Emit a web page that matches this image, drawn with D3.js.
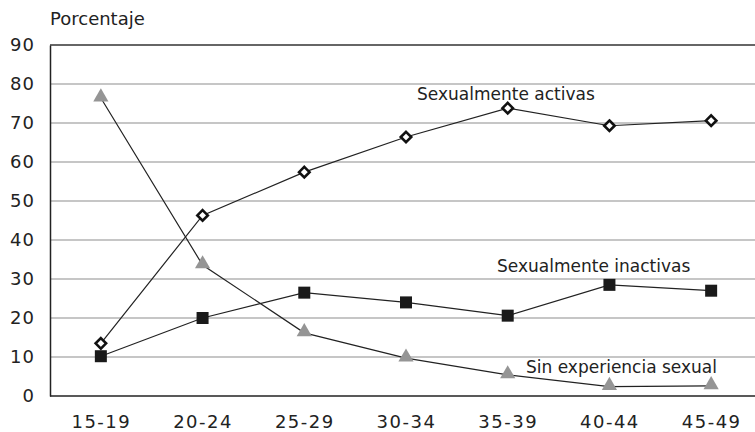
<!DOCTYPE html>
<html><head><meta charset="utf-8">
<script src="https://cdn.jsdelivr.net/npm/d3@7"></script>
<style>body{margin:0;background:#fff}svg{display:block;font-family:"DejaVu Sans",sans-serif}</style>
</head><body>
<svg id="c" width="755" height="432"></svg>
<script>
const categories = ["15-19","20-24","25-29","30-34","35-39","40-44","45-49"];
const activas    = [13.5, 46.3, 57.4, 66.4, 73.8, 69.3, 70.6];
const inactivas  = [10.2, 20.0, 26.5, 24.0, 20.6, 28.5, 27.0];
const sinExp     = [76.4, 33.6, 16.2, 9.7, 5.4, 2.4, 2.6];
const yTicks = [0,10,20,30,40,50,60,70,80,90];

const svg = d3.select("#c");
const L = 50, R = 762, T = 45, B = 396;
const x = d3.scalePoint().domain(categories).range([L, R]).padding(0.5);
const y = d3.scaleLinear().domain([0, 90]).range([B, T]);

// gridlines
svg.append("g").selectAll("line").data(yTicks.filter(d => d > 0 && d < 90)).join("line")
  .attr("x1", L).attr("x2", 755).attr("y1", d => y(d)).attr("y2", d => y(d))
  .attr("stroke", "#b3b3b3").attr("stroke-width", 1.3);
// top border
svg.append("line").attr("x1", L).attr("x2", 755).attr("y1", y(90)).attr("y2", y(90))
  .attr("stroke", "#333").attr("stroke-width", 1.5);
// x axis baseline
svg.append("line").attr("x1", L).attr("x2", 755).attr("y1", y(0)).attr("y2", y(0))
  .attr("stroke", "#222").attr("stroke-width", 1.5);
// y axis
const ya = svg.append("g").attr("transform", `translate(${L},0)`)
  .call(d3.axisLeft(y).tickValues(yTicks).tickSize(0).tickPadding(15));
ya.select(".domain").attr("stroke", "#222").attr("stroke-width", 1.5);
ya.selectAll("text").attr("font-size", 18).attr("fill", "#222")
  .attr("font-family", "DejaVu Sans, sans-serif").attr("letter-spacing", 1).attr("dy", "0.28em");

// x axis labels
const xa = svg.append("g").attr("transform", `translate(0,${B})`)
  .call(d3.axisBottom(x).tickSize(0).tickPadding(19));
xa.select(".domain").remove();
xa.selectAll("text").attr("font-size", 18).attr("fill", "#222")
  .attr("font-family", "DejaVu Sans, sans-serif").attr("letter-spacing", 1.5);

svg.append("text").attr("x", 50).attr("y", 25).attr("font-size", 18).attr("fill", "#222").text("Porcentaje");

const line = d3.line().x((d, i) => x(categories[i])).y(d => y(d));
[sinExp, activas, inactivas].forEach(s => {
  svg.append("path").datum(s).attr("d", line).attr("fill", "none").attr("stroke", "#222").attr("stroke-width", 1.2);
});

// markers: triangles (gray)
svg.append("g").selectAll("path").data(sinExp).join("path")
  .attr("d", d3.symbol().type(d3.symbolTriangle).size(100))
  .attr("transform", (d, i) => `translate(${x(categories[i])},${y(d) - 1})`)
  .attr("fill", "#959595");
// squares (black)
svg.append("g").selectAll("rect").data(inactivas).join("rect")
  .attr("x", (d, i) => x(categories[i]) - 6).attr("y", d => y(d) - 6)
  .attr("width", 12).attr("height", 12).attr("fill", "#1a1a1a");
// diamonds (open)
svg.append("g").selectAll("path").data(activas).join("path")
  .attr("d", d3.symbol().type(d3.symbolDiamond2).size(70))
  .attr("transform", (d, i) => `translate(${x(categories[i])},${y(d)})`)
  .attr("fill", "#fff").attr("stroke", "#111").attr("stroke-width", 2.6);

// series labels
const lab = [
  {t: "Sexualmente activas", x: 417, y: 100},
  {t: "Sexualmente inactivas", x: 497, y: 272},
  {t: "Sin experiencia sexual", x: 526, y: 373}
];
svg.append("g").selectAll("text").data(lab).join("text")
  .attr("x", d => d.x).attr("y", d => d.y).attr("font-size", 17).attr("fill", "#222").text(d => d.t);
</script>
</body></html>
